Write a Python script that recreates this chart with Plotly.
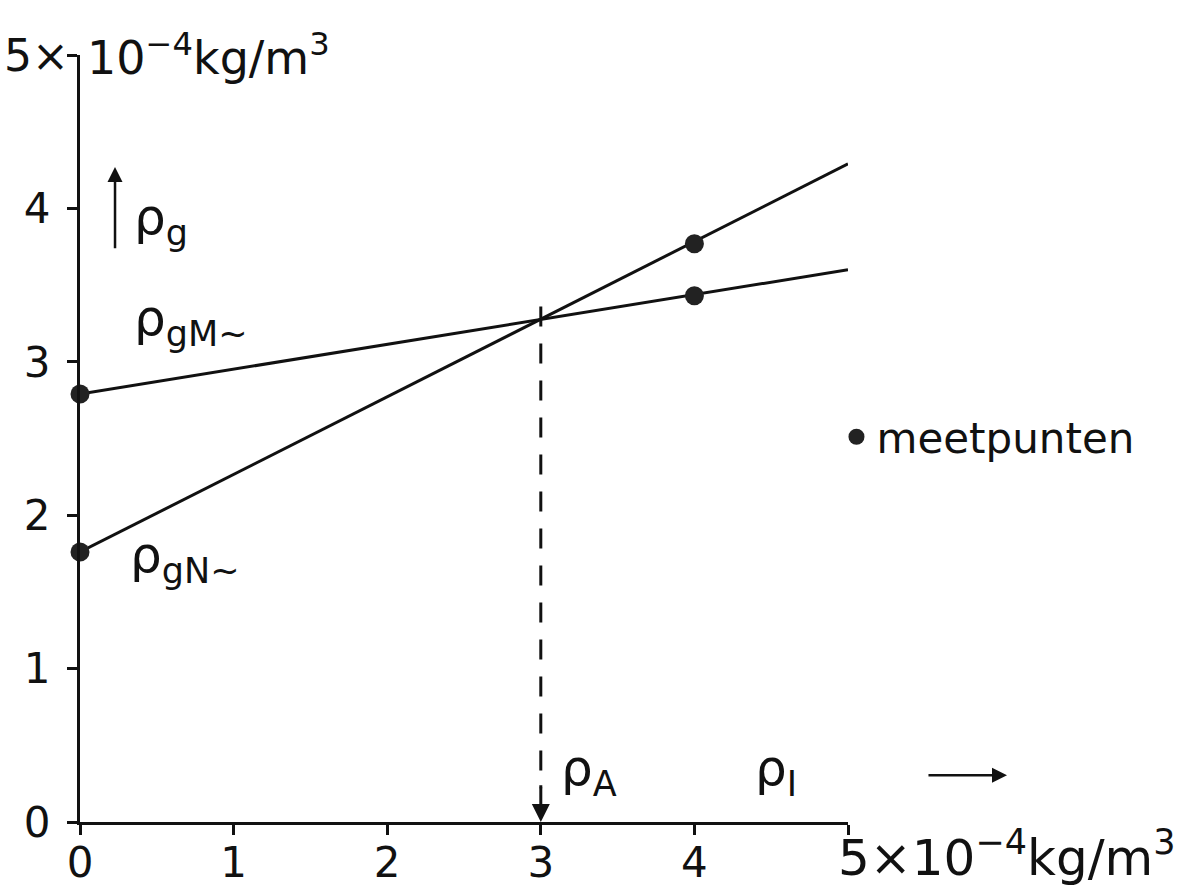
import plotly.graph_objects as go

# ---- data ----
meas_x = [0, 4]                      # x positions of the measured points (×10^-4 kg/m^3)
rho_gM_meas = [2.79, 3.43]           # measured rho_gM~
rho_gN_meas = [1.76, 3.77]           # measured rho_gN~
line_x = [0, 5]                      # straight-line end points
rho_gM_line = [2.79, 3.60]
rho_gN_line = [1.76, 4.29]
rho_A = 3.0                          # intersection (x)
rho_A_top = 3.36                     # top of dashed line
tick_vals = [0, 1, 2, 3, 4, 5]
x_tick_text = ["0", "1", "2", "3", "4", ""]
y_tick_text = ["0", "1", "2", "3", "4", ""]

FONT = "DejaVu Sans"
BLACK = "#111111"

fig = go.Figure()

fig.add_trace(go.Scatter(x=line_x, y=rho_gM_line, mode="lines",
                         line=dict(color=BLACK, width=3), showlegend=False, cliponaxis=False))
fig.add_trace(go.Scatter(x=line_x, y=rho_gN_line, mode="lines",
                         line=dict(color=BLACK, width=3), showlegend=False, cliponaxis=False))
# dashed vertical line at rho_A
fig.add_trace(go.Scatter(x=[rho_A, rho_A], y=[rho_A_top, 0.22], mode="lines",
                         line=dict(color=BLACK, width=3, dash="20px,17px"),
                         showlegend=False, cliponaxis=False))
# measured points
fig.add_trace(go.Scatter(x=meas_x, y=rho_gM_meas, mode="markers", name="meetpunten",
                         legendgroup="m", showlegend=True,
                         marker=dict(color="#222222", size=19), cliponaxis=False))
fig.add_trace(go.Scatter(x=meas_x, y=rho_gN_meas, mode="markers", name="meetpunten",
                         legendgroup="m", showlegend=False,
                         marker=dict(color="#222222", size=19), cliponaxis=False))

axis_common = dict(range=[0, 5], showgrid=False, zeroline=False, showline=True,
                   linecolor=BLACK, linewidth=3, ticks="outside", ticklen=10,
                   tickwidth=3, tickcolor=BLACK, tickvals=tick_vals, automargin=False,
                   tickfont=dict(family=FONT, size=42, color=BLACK))
fig.update_xaxes(**axis_common, ticktext=x_tick_text, ticklabelstandoff=-8)
fig.update_yaxes(**axis_common, ticktext=y_tick_text, ticklabelstandoff=8)

lab = dict(family=FONT, size=50, color=BLACK)
unit_font = dict(family=FONT, size=46, color=BLACK)
ann = [
    dict(x=-0.012, y=1.0, xref="paper", yref="paper", xanchor="right", yanchor="middle",
         text="5×", showarrow=False, font=dict(family=FONT, size=44, color=BLACK)),
    dict(x=0.006, y=1.0, xref="paper", yref="paper", xanchor="left", yanchor="middle",
         text="10<sup>−4</sup>kg/m<sup>3</sup>", showarrow=False, font=unit_font),
    dict(x=0.985, y=-0.043, xref="paper", yref="paper", xanchor="left", yanchor="middle",
         text="5×10<sup>−4</sup>kg/m<sup>3</sup>", showarrow=False,
         font=dict(family=FONT, size=50, color=BLACK)),
    dict(x=0.34, y=3.92, xref="x", yref="y", xanchor="left", yanchor="middle",
         text="ρ<sub>g</sub>", showarrow=False, font=lab),
    dict(x=0.34, y=3.26, xref="x", yref="y", xanchor="left", yanchor="middle",
         text="ρ<sub>gM~</sub>", showarrow=False, font=lab),
    dict(x=0.31, y=1.72, xref="x", yref="y", xanchor="left", yanchor="middle",
         text="ρ<sub>gN~</sub>", showarrow=False, font=lab),
    dict(x=3.12, y=0.33, xref="x", yref="y", xanchor="left", yanchor="middle",
         text="ρ<sub>A</sub>", showarrow=False, font=lab),
    dict(x=4.38, y=0.33, xref="x", yref="y", xanchor="left", yanchor="middle",
         text="ρ<sub>I</sub>", showarrow=False, font=lab),
    # arrows
    dict(x=0.228, y=4.27, ax=0.228, ay=3.73, xref="x", yref="y", axref="x", ayref="y",
         text="", showarrow=True, arrowhead=2, arrowsize=1.2, arrowwidth=2.5, arrowcolor=BLACK),
    dict(x=1.207, y=0.061, ax=-80, ay=0, xref="paper", yref="paper",
         text="", showarrow=True, arrowhead=2, arrowsize=1.2, arrowwidth=2.5, arrowcolor=BLACK),
    dict(x=rho_A, y=0.0, ax=rho_A, ay=0.25, xref="x", yref="y", axref="x", ayref="y",
         text="", showarrow=True, arrowhead=2, arrowsize=1.2, arrowwidth=3, arrowcolor=BLACK),
]

fig.update_layout(
    width=1187, height=893,
    margin=dict(l=80, r=339, t=55, b=71),
    paper_bgcolor="white", plot_bgcolor="white",
    font=dict(family=FONT, color=BLACK),
    annotations=ann,
    showlegend=True,
    legend=dict(x=0.985, y=0.502, xanchor="left", yanchor="middle",
                font=dict(family=FONT, size=42, color=BLACK),
                bgcolor="rgba(0,0,0,0)", itemsizing="trace"),
)

fig.write_html("out.html")
